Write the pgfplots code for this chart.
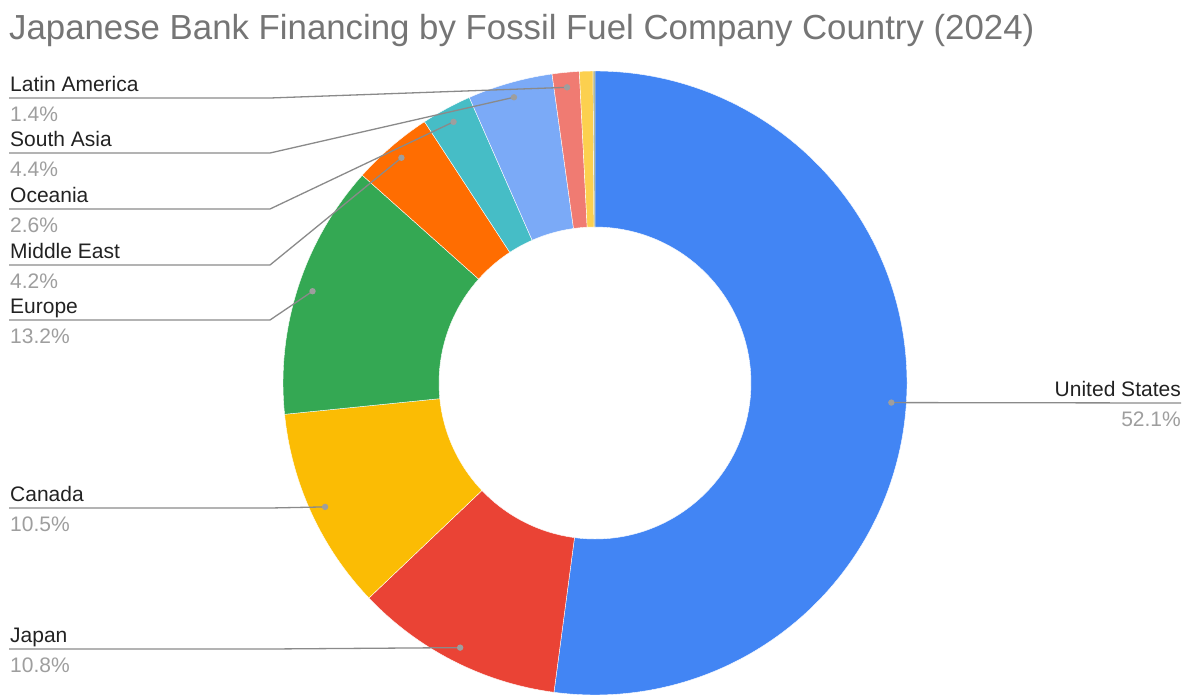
\documentclass[border=0pt]{standalone}
\usepackage{pgfplots}
\pgfplotsset{compat=1.18}
\usepackage{pgfplotstable}
\usepackage{fontspec}
\setmainfont{Liberation Sans}
\definecolor{cUS}{HTML}{4285F4}
\definecolor{cJP}{HTML}{EA4335}
\definecolor{cCA}{HTML}{FBBC04}
\definecolor{cEU}{HTML}{34A853}
\definecolor{cME}{HTML}{FF6D01}
\definecolor{cOC}{HTML}{46BDC6}
\definecolor{cSA}{HTML}{7BAAF7}
\definecolor{cLA}{HTML}{F07B72}
\definecolor{cOT}{HTML}{FCD04F}
\definecolor{cOTT}{HTML}{A8B08A}
\definecolor{titlegray}{HTML}{757575}
\definecolor{labtext}{HTML}{222222}
\definecolor{pcttext}{HTML}{9E9E9E}
\definecolor{linegray}{HTML}{8A8A8A}
\definecolor{dotgray}{HTML}{9E9E9E}
\newcommand{\labfont}{\fontsize{21}{25}\selectfont\color{labtext}}
\newcommand{\pctfont}{\fontsize{21}{25}\selectfont\color{pcttext}}

% name, share (%), colour, y of leader line (pixels from top), side (0 left, 1 right, -1 none)
\pgfplotstableread[col sep=comma]{
name,pct,col,ly,side
United States,52.1,cUS,403,1
Japan,10.8,cJP,649,0
Canada,10.5,cCA,508,0
Europe,13.2,cEU,320,0
Middle East,4.2,cME,265,0
Oceania,2.6,cOC,209,0
South Asia,4.4,cSA,153,0
Latin America,1.4,cLA,98,0
Other,0.7,cOT,0,-1
Other2,0.1,cOTT,0,-1
}\data

\begin{document}
\begin{tikzpicture}
\begin{axis}[
  at={(0,0)}, anchor=south west,
  width=1187pt, height=696pt, scale only axis,
  xmin=0, xmax=1187, ymin=0, ymax=696, y dir=reverse,
  hide axis, clip=false]
\pgfplotstablegetrowsof{\data}
\pgfmathtruncatemacro{\N}{\pgfplotsretval-1}
\def\cum{0}
\pgfplotsforeachungrouped \i in {0,...,\N}{%
  \pgfplotstablegetelem{\i}{pct}\of\data \let\v\pgfplotsretval
  \pgfplotstablegetelem{\i}{col}\of\data \let\c\pgfplotsretval
  \pgfmathsetmacro{\aone}{90-3.6*\cum}%
  \pgfmathsetmacro{\atwo}{90-3.6*(\cum+\v)}%
  \pgfmathsetmacro{\amid}{(\aone+\atwo)/2}%
  \pgfmathsetmacro{\aback}{\atwo+180}%
  \pgfmathsetmacro{\cum}{\cum+\v}%
  \edef\temp{\noexpand\fill[\c,draw=white,line width=0.4pt]
    (axis cs:595,383) ++(\aone:312pt) arc[start angle=\aone,end angle=\atwo,radius=312pt]
    -- ++(\aback:156pt) arc[start angle=\atwo,end angle=\aone,radius=156pt] -- cycle;}%
  \temp
}
\def\cum{0}
\pgfplotsforeachungrouped \i in {0,...,\N}{%
  \pgfplotstablegetelem{\i}{pct}\of\data \let\v\pgfplotsretval
  \pgfplotstablegetelem{\i}{name}\of\data \let\nm\pgfplotsretval
  \pgfplotstablegetelem{\i}{ly}\of\data \let\ly\pgfplotsretval
  \pgfplotstablegetelem{\i}{side}\of\data \let\sd\pgfplotsretval
  \pgfmathsetmacro{\amid}{90-3.6*(\cum+\v/2)}%
  \pgfmathsetmacro{\cum}{\cum+\v}%
  \pgfmathsetmacro{\lyt}{\ly-7}%
  \pgfmathsetmacro{\lyb}{\ly+23}%
  \ifnum\sd=0
    \edef\temp{\noexpand\draw[linegray,line width=1.3pt]
      (axis cs:595,383) ++(\amid:297pt) -- (axis cs:270,\ly) -- (axis cs:9,\ly);
      \noexpand\fill[dotgray] (axis cs:595,383) ++(\amid:297pt) circle[radius=3.2pt];
      \noexpand\node[anchor=base west,inner sep=0pt] at (axis cs:10,\lyt) {\noexpand\labfont \nm};
      \noexpand\node[anchor=base west,inner sep=0pt] at (axis cs:10,\lyb) {\noexpand\pctfont \v\noexpand\%};}%
    \temp
  \fi
  \ifnum\sd=1
    \edef\temp{\noexpand\draw[linegray,line width=1.3pt]
      (axis cs:595,383) ++(\amid:297pt) -- (axis cs:1181,\ly);
      \noexpand\fill[dotgray] (axis cs:595,383) ++(\amid:297pt) circle[radius=3.2pt];
      \noexpand\node[anchor=base east,inner sep=0pt] at (axis cs:1181,\lyt) {\noexpand\labfont \nm};
      \noexpand\node[anchor=base east,inner sep=0pt] at (axis cs:1181,\lyb) {\noexpand\pctfont \v\noexpand\%};}%
    \temp
  \fi
}
\node[anchor=base west,inner sep=0pt,text=titlegray] at (axis cs:9,39)
  {\fontsize{34.8}{40}\selectfont Japanese Bank Financing by Fossil Fuel Company Country (2024)};
\end{axis}
\pgfresetboundingbox
\path (0,0) rectangle (1187pt,696pt);
\end{tikzpicture}
\end{document}
